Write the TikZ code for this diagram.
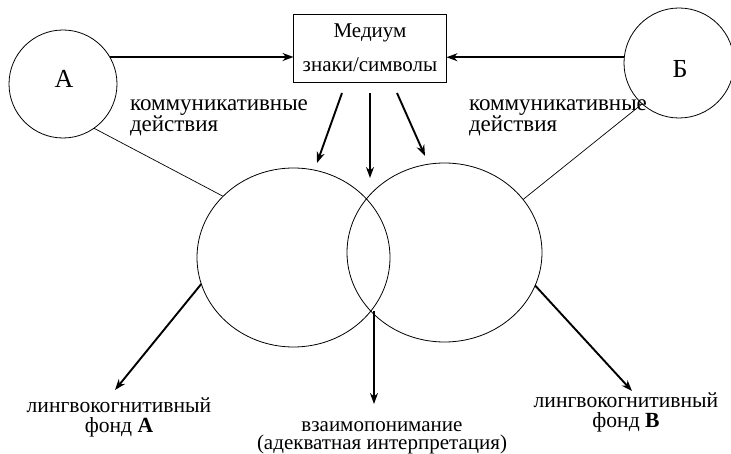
\documentclass[tikz,border=0pt]{standalone}
\usepackage{fontspec}
\setmainfont{Liberation Serif}
\usetikzlibrary{shapes.geometric,arrows.meta}
\begin{document}
\begin{tikzpicture}[x=1pt,y=-1pt,
  every node/.style={inner sep=0pt,outer sep=0pt},
  boxtxt/.style={font=\fontsize{21}{21}\selectfont},
  commtxt/.style={font=\fontsize{23}{17}\selectfont},
  fundtxt/.style={font=\fontsize{21.6}{20}\selectfont},
  midtxt/.style={font=\fontsize{21}{18}\selectfont},
  bigtxt/.style={font=\fontsize{26}{28}\selectfont},
  agent/.style={draw,circle,line width=0.8pt},
  fund/.style={draw,ellipse,line width=0.8pt},
  thin/.style={line width=0.7pt},
  arr/.style={line width=1.9pt,-{Stealth[length=11pt,width=8pt]}}]
\useasboundingbox (0,0) rectangle (731,454);
% agents
\node[agent,minimum size=108pt] (A) at (63,84) {};
\node[bigtxt,anchor=base] (Al) at (64,88) {А};
\node[agent,minimum size=110pt] (B) at (679,63) {};
\node[bigtxt,anchor=base] (Bl) at (680,78) {Б};
% medium box
\node[draw,line width=0.8pt,minimum width=153pt,minimum height=68pt] (M) at (370,48) {};
\node[boxtxt,anchor=base] (m1) at (370,38) {Медиум};
\node[boxtxt,anchor=base] (m2) at (370,72) {знаки/символы};
% funds
\node[fund,minimum width=193pt,minimum height=179pt] (L) at (293.5,257.5) {};
\node[fund,minimum width=195pt,minimum height=179pt] (R) at (444.5,252.5) {};
% agent arrows
\draw[arr] (A.30) -- (A.30 -| M.west);
\draw[arr] (B.174) -- (B.174 -| M.east);
\node[commtxt,anchor=base west,align=left] (ca) at (130,132) {коммуникативные\\действия};
\node[commtxt,anchor=base west,align=left] (cb) at (469,132) {коммуникативные\\действия};
% thin links
\draw[thin] (A.-55) -- (L.139);
\draw[thin] (B.228) -- (R.34);
% arrows from medium
\coordinate (s1) at (342,93);
\coordinate (s2) at (370,93);
\coordinate (s3) at (397,93);
\coordinate (t1) at (317,163);
\coordinate (t2) at (370,178);
\coordinate (t3) at (425,156);
\draw[arr] (s1) -- (t1);
\draw[arr] (s2) -- (t2);
\draw[arr] (s3) -- (t3);
% labels bottom
\node[fundtxt,align=center,anchor=base] (fa) at (119,432) {лингвокогнитивный\\фонд \textbf{А}};
\node[midtxt,align=center,anchor=base] (vz) at (382,449) {взаимопонимание\\(адекватная интерпретация)};
\node[fundtxt,align=center,anchor=base] (fb) at (626,427) {лингвокогнитивный\\фонд \textbf{В}};
% arrows to labels
\coordinate (ta) at (115,390);
\coordinate (x0) at (374,311);
\coordinate (tv) at (374,404);
\coordinate (tb) at (632,391);
\draw[arr] (L.196) -- (ta);
\draw[arr] (x0) -- (tv);
\draw[arr] (R.-20) -- (tb);
\end{tikzpicture}
\end{document}
